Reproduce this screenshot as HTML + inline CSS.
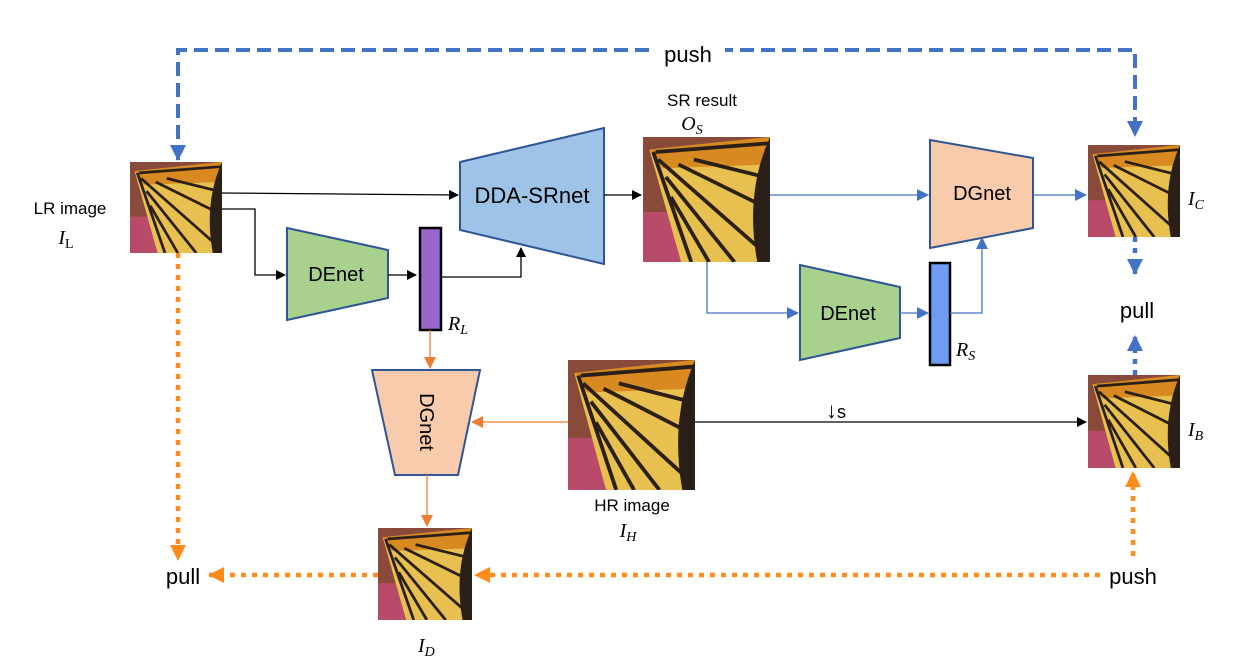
<!DOCTYPE html>
<html><head><meta charset="utf-8"><style>
body{margin:0;background:#fff}
svg{display:block}
text{font-family:"Liberation Sans",sans-serif;fill:#000}
.m{font-family:"Liberation Serif",serif;font-style:italic}
</style></head><body>
<svg width="1254" height="666" viewBox="0 0 1254 666" xmlns="http://www.w3.org/2000/svg">
<defs>
<symbol id="bf" viewBox="0 0 100 100" preserveAspectRatio="none">
<rect width="100" height="100" fill="#8a4a3a"/>
<rect x="0" y="60" width="40" height="40" fill="#b84a6a"/>
<path d="M5,10 L100,0 L100,100 L30,100 Z" fill="#e8c050"/>
<path d="M5,10 L100,0 L100,22 L15,25 Z" fill="#d88a20"/>
<g stroke="#2a2018" stroke-width="3" fill="none">
<path d="M12,18 L95,92"/><path d="M18,32 L72,100"/><path d="M28,22 L100,58"/><path d="M40,18 L100,33"/><path d="M22,48 L52,100"/><path d="M8,12 L38,100"/><path d="M10,12 L100,5"/>
</g>
<path d="M100,0 L100,100 L90,100 Q80,45 100,0Z" fill="#2a2018"/>
</symbol>
<marker id="ab" markerWidth="10" markerHeight="10" refX="9" refY="5" orient="auto" markerUnits="userSpaceOnUse"><path d="M0,0 L10,5 L0,10Z" fill="#000"/></marker>
<marker id="abl" markerWidth="12" markerHeight="12" refX="11" refY="6" orient="auto" markerUnits="userSpaceOnUse"><path d="M0,0 L12,6 L0,12Z" fill="#4472c4"/></marker>
<marker id="ao" markerWidth="12" markerHeight="12" refX="11" refY="6" orient="auto" markerUnits="userSpaceOnUse"><path d="M0,0 L12,6 L0,12Z" fill="#ed7d31"/></marker>
<marker id="aob" markerWidth="16" markerHeight="16" refX="15" refY="8" orient="auto" markerUnits="userSpaceOnUse"><path d="M0,0 L16,8 L0,16Z" fill="#ff8c1a"/></marker>
<marker id="ablb" markerWidth="16" markerHeight="16" refX="15" refY="8" orient="auto-start-reverse" markerUnits="userSpaceOnUse"><path d="M0,0 L16,8 L0,16Z" fill="#4472c4"/></marker>
</defs>

<path d="M178,160 V50 H1135 V136" fill="none" stroke="#4472c4" stroke-width="4" stroke-dasharray="14,7" marker-start="url(#ablb)" marker-end="url(#ablb)"/>
<rect x="650" y="38" width="75" height="26" fill="#fff"/>
<text x="688" y="62" font-size="22" text-anchor="middle">push</text>

<use href="#bf" x="130" y="162" width="92" height="91"/>
<use href="#bf" x="643" y="137" width="127" height="125"/>
<use href="#bf" x="1088" y="145" width="92" height="92"/>
<use href="#bf" x="568" y="360" width="127" height="130"/>
<use href="#bf" x="1088" y="375" width="92" height="93"/>
<use href="#bf" x="378" y="528" width="94" height="92"/>

<text x="70" y="214" font-size="17" text-anchor="middle">LR image</text>
<text x="66" y="244" font-size="20" class="m" text-anchor="middle">I<tspan font-size="14" dy="4" font-style="normal">L</tspan></text>
<text x="702" y="106" font-size="17" text-anchor="middle">SR result</text>
<text x="692" y="130" font-size="20" class="m" text-anchor="middle">O<tspan font-size="14" dy="4">S</tspan></text>
<text x="1188" y="205" font-size="20" class="m">I<tspan font-size="14" dy="4">C</tspan></text>
<text x="1188" y="436" font-size="20" class="m">I<tspan font-size="14" dy="4">B</tspan></text>
<text x="632" y="511" font-size="17" text-anchor="middle">HR image</text>
<text x="628" y="537" font-size="20" class="m" text-anchor="middle">I<tspan font-size="14" dy="4">H</tspan></text>
<text x="418" y="652" font-size="20" class="m">I<tspan font-size="14" dy="4">D</tspan></text>
<text x="448" y="330" font-size="20" class="m">R<tspan font-size="14" dy="4">L</tspan></text>
<text x="956" y="356" font-size="20" class="m">R<tspan font-size="14" dy="4">S</tspan></text>
<text x="1137" y="318" font-size="22" text-anchor="middle">pull</text>
<text x="183" y="584" font-size="22" text-anchor="middle">pull</text>
<text x="1133" y="584" font-size="22" text-anchor="middle">push</text>
<text x="826" y="418" font-size="22">↓<tspan font-size="18">s</tspan></text>

<polygon points="460,162 604,128 604,264 460,230" fill="#9dc3e6" stroke="#2f5597" stroke-width="2"/>
<text x="532" y="203" font-size="22" text-anchor="middle">DDA-SRnet</text>
<polygon points="287,228 388,250 388,298 287,320" fill="#a9d18e" stroke="#2f5597" stroke-width="2"/>
<text x="336" y="281" font-size="20" text-anchor="middle">DEnet</text>
<polygon points="800,265 900,287 900,338 800,360" fill="#a9d18e" stroke="#2f5597" stroke-width="2"/>
<text x="848" y="320" font-size="20" text-anchor="middle">DEnet</text>
<polygon points="930,140 1033,158 1033,228 930,248" fill="#f8cbad" stroke="#2f5597" stroke-width="2"/>
<text x="982" y="200" font-size="20" text-anchor="middle">DGnet</text>
<polygon points="372,370 480,370 458,475 395,475" fill="#f8cbad" stroke="#2f5597" stroke-width="2"/>
<text x="0" y="0" font-size="20" text-anchor="middle" transform="translate(420,422) rotate(90)">DGnet</text>
<rect x="420" y="228" width="21" height="102" fill="#9966cc" stroke="#000" stroke-width="2.5"/>
<rect x="930" y="263" width="20" height="102" fill="#6f9cf2" stroke="#000" stroke-width="2.5"/>

<g stroke="#000" stroke-width="1.3" fill="none">
<path d="M222,193 L458,195" marker-end="url(#ab)"/>
<path d="M222,209 H255 V275 H285" marker-end="url(#ab)"/>
<path d="M388,275 H416" marker-end="url(#ab)"/>
<path d="M441,277 H521 V248" marker-end="url(#ab)"/>
<path d="M604,195 H641" marker-end="url(#ab)"/>
<path d="M695,422 H1086" marker-end="url(#ab)"/>
</g>
<g stroke="#4472c4" stroke-width="1.3" fill="none">
<path d="M770,195 H928" marker-end="url(#abl)"/>
<path d="M707,262 V313 H798" marker-end="url(#abl)"/>
<path d="M900,313 H928" marker-end="url(#abl)"/>
<path d="M950,313 H982 V238" marker-end="url(#abl)"/>
<path d="M1033,195 H1086" marker-end="url(#abl)"/>
</g>
<g stroke="#ed7d31" stroke-width="1.3" fill="none">
<path d="M430,330 V368" marker-end="url(#ao)"/>
<path d="M568,422 H472" marker-end="url(#ao)"/>
<path d="M427,475 V526" marker-end="url(#ao)"/>
</g>
<g stroke-width="4.5" fill="none" stroke-dasharray="5,6">
<path d="M1135,237 V274" stroke="#4472c4" marker-end="url(#ablb)"/>
<path d="M1135,375 V336" stroke="#4472c4" marker-end="url(#ablb)"/>
<path d="M178,253 V560" stroke="#ff8c1a" marker-end="url(#aob)"/>
<path d="M1133,556 V472" stroke="#ff8c1a" marker-end="url(#aob)"/>
<path d="M1100,575 H475" stroke="#ff8c1a" marker-end="url(#aob)"/>
<path d="M378,575 H209" stroke="#ff8c1a" marker-end="url(#aob)"/>
</g>
</svg>
</body></html>
